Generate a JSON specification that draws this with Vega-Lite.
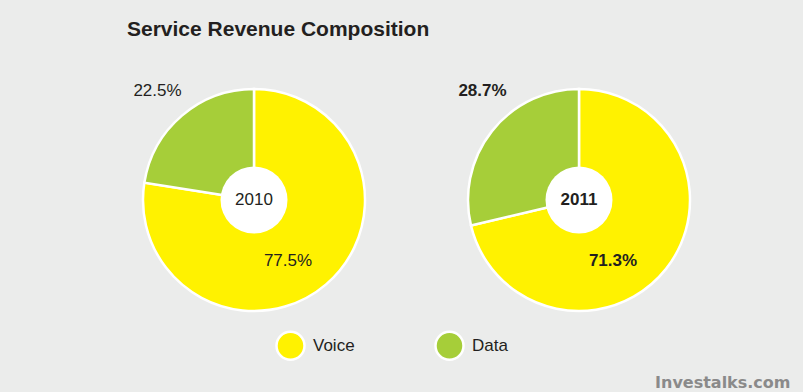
{
  "$schema": "https://vega.github.io/schema/vega-lite/v6.json",
  "width": 803,
  "height": 384,
  "autosize": "none",
  "padding": {"top": 8, "left": 0, "right": 0, "bottom": 0},
  "background": "#ebeceb",
  "config": {"view": {"stroke": null}, "font": "Liberation Sans"},
  "title": {
    "text": "Service Revenue Composition",
    "anchor": "start",
    "frame": "group",
    "baseline": "alphabetic",
    "dx": 127,
    "offset": -49,
    "fontSize": 21,
    "fontWeight": "bold",
    "color": "#231f20",
    "font": "Liberation Sans"
  },
  "data": {
    "values": [
      {"year": "2010", "category": "Voice", "share": 0.775, "order": 1},
      {"year": "2010", "category": "Data", "share": 0.225, "order": 2},
      {"year": "2011", "category": "Voice", "share": 0.713, "order": 1},
      {"year": "2011", "category": "Data", "share": 0.287, "order": 2}
    ]
  },
  "transform": [
    {"stack": "share", "groupby": ["year"], "sort": [{"field": "order"}], "as": ["s0", "s1"]}
  ],
  "encoding": {
    "x": {
      "field": "year",
      "type": "ordinal",
      "scale": {"type": "point", "domain": ["2010", "2011"], "range": [254, 579], "padding": 0},
      "axis": {
        "labels": false,
        "ticks": false,
        "domain": false,
        "grid": false,
        "title": "Investalks.com",
        "titleX": 790,
        "titleY": -10,
        "titleAlign": "right",
        "titleBaseline": "middle",
        "titleFont": "DejaVu Sans",
        "titleFontWeight": "bold",
        "titleFontSize": 16,
        "titleColor": "#8a8a8a"
      }
    }
  },
  "layer": [
    {
      "mark": {"type": "arc", "outerRadius": 111, "stroke": "white", "strokeWidth": 2.5},
      "encoding": {
        "theta": {"field": "s0", "type": "quantitative", "scale": {"domain": [0, 1]}},
        "theta2": {"field": "s1"},
        "color": {
          "field": "category",
          "type": "nominal",
          "scale": {"domain": ["Voice", "Data"], "range": ["#fff200", "#a6ce39"]},
          "legend": {
            "title": null,
            "orient": "none",
            "legendX": 275,
            "legendY": 322,
            "direction": "horizontal",
            "symbolType": "circle",
            "symbolSize": 784,
            "symbolStrokeColor": "white",
            "symbolStrokeWidth": 2.5,
            "symbolOpacity": 1,
            "labelFontSize": 17,
            "labelFont": "Liberation Sans",
            "labelColor": "#231f20",
            "labelOffset": 7,
            "columnPadding": 75
          }
        }
      }
    },
    {
      "transform": [{"filter": "datum.category == 'Voice'"}],
      "mark": {"type": "point", "shape": "circle", "filled": true, "color": "white", "opacity": 1, "size": 4489},
      "encoding": {}
    },
    {
      "transform": [{"filter": "datum.category == 'Voice'"}],
      "mark": {"type": "text", "fontSize": 17, "color": "#231f20", "align": "center", "baseline": "middle",
               "fontWeight": {"expr": "datum.year == '2011' ? 'bold' : 'normal'"}},
      "encoding": {"text": {"field": "year"}}
    },
    {
      "transform": [{"filter": "datum.category == 'Voice'"}],
      "mark": {"type": "text", "fontSize": 17, "color": "#231f20", "align": "center", "baseline": "middle", "dx": 34, "dy": 61,
               "fontWeight": {"expr": "datum.year == '2011' ? 'bold' : 'normal'"}},
      "encoding": {"text": {"field": "share", "type": "quantitative", "format": ".1%"}}
    },
    {
      "transform": [{"filter": "datum.category == 'Data'"}],
      "mark": {"type": "text", "fontSize": 17, "color": "#231f20", "align": "center", "baseline": "middle", "dx": -96.5, "dy": -109,
               "fontWeight": {"expr": "datum.year == '2011' ? 'bold' : 'normal'"}},
      "encoding": {"text": {"field": "share", "type": "quantitative", "format": ".1%"}}
    }
  ]
}
